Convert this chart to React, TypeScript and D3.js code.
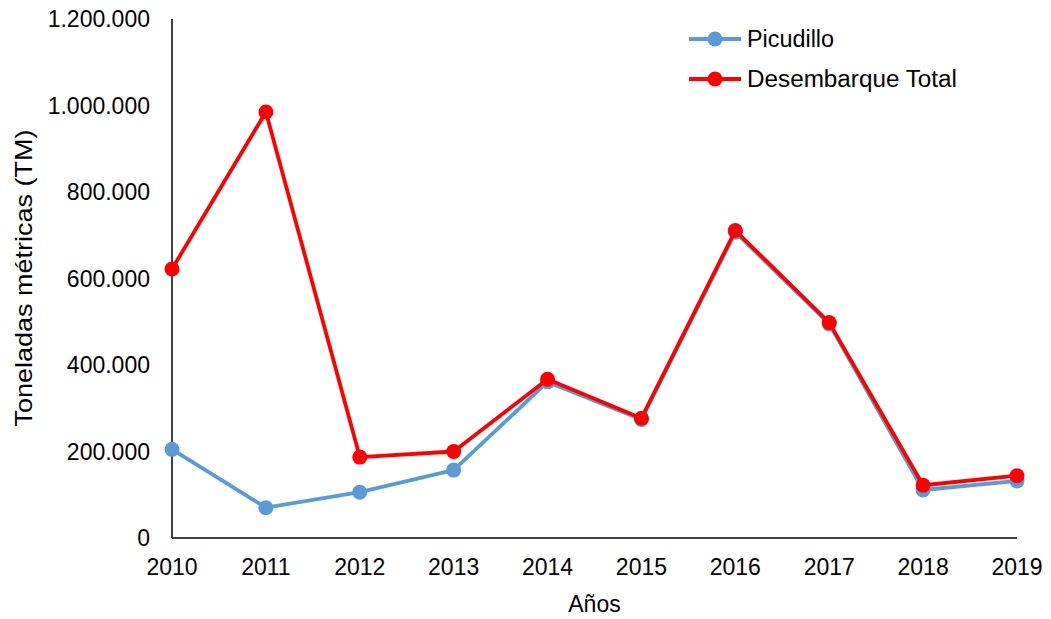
import React from "react";
import * as d3 from "d3";

const years = ["2010", "2011", "2012", "2013", "2014", "2015", "2016", "2017", "2018", "2019"];
const picudillo = [205000, 70000, 106000, 157000, 361000, 274000, 707000, 495000, 111000, 132000];
const desembarqueTotal = [622000, 985000, 187000, 200000, 367000, 277000, 711000, 498000, 122000, 144000];
const yTicks = [0, 200000, 400000, 600000, 800000, 1000000, 1200000];

const W = 1051;
const H = 619;
const left = 172;
const right = 1017;
const top = 19;
const bottom = 538;

const font = "'Liberation Sans', Arial, sans-serif";

const fmt = (v: number) => (v === 0 ? "0" : d3.format(",")(v).replace(/,/g, "."));

export default function App() {
  const x = d3.scalePoint<string>().domain(years).range([left, right]);
  const y = d3.scaleLinear().domain([0, 1200000]).range([bottom, top]);

  const line = d3
    .line<number>()
    .x((_, i) => x(years[i]) as number)
    .y((d) => y(d));

  const series = [
    { name: "Picudillo", values: picudillo, color: "#5B9BD5", labelLen: 87 },
    { name: "Desembarque Total", values: desembarqueTotal, color: "#FF0000", labelLen: 210 },
  ];

  return (
    <svg
      width={W}
      height={H}
      style={{ position: "absolute", left: 0, top: 0, background: "#fff" }}
      fontFamily={font}
    >
      <rect width={W} height={H} fill="#fff" />
      {/* axes */}
      <line x1={left} x2={left} y1={top} y2={bottom} stroke="#000" strokeWidth={1.5} />
      <line x1={left} x2={right} y1={bottom} y2={bottom} stroke="#000" strokeWidth={1.5} />

      {yTicks.map((t) => (
        <text key={t} x={left - 22} y={y(t)} dy="0.36em" textAnchor="end" fontSize={23} fill="#000">
          {fmt(t)}
        </text>
      ))}

      {years.map((yr) => (
        <text key={yr} x={x(yr)} y={575} textAnchor="middle" fontSize={23} fill="#000">
          {yr}
        </text>
      ))}

      <text x={(left + right) / 2} y={612} textAnchor="middle" fontSize={23} fill="#000">
        Años
      </text>
      <text
        transform={`translate(32, 278) rotate(-90)`}
        textAnchor="middle"
        fontSize={24}
        textLength={297}
        lengthAdjust="spacingAndGlyphs"
        fill="#000"
      >
        Toneladas métricas (TM)
      </text>

      {series.map((s) => (
        <g key={s.name}>
          <path d={line(s.values) as string} fill="none" stroke={s.color} strokeWidth={3.8} strokeLinejoin="round" />
          {s.values.map((v, i) => (
            <circle key={i} cx={x(years[i]) as number} cy={y(v)} r={7.5} fill={s.color} />
          ))}
        </g>
      ))}

      {/* legend */}
      {series.map((s, i) => {
        const ly = 39 + i * 40;
        return (
          <g key={s.name}>
            <line x1={689} x2={741} y1={ly} y2={ly} stroke={s.color} strokeWidth={3.8} />
            <circle cx={715} cy={ly} r={7.5} fill={s.color} />
            <text
              x={747}
              y={ly}
              dy="0.36em"
              fontSize={23}
              textLength={s.labelLen}
              lengthAdjust="spacingAndGlyphs"
              fill="#000"
            >
              {s.name}
            </text>
          </g>
        );
      })}
    </svg>
  );
}
